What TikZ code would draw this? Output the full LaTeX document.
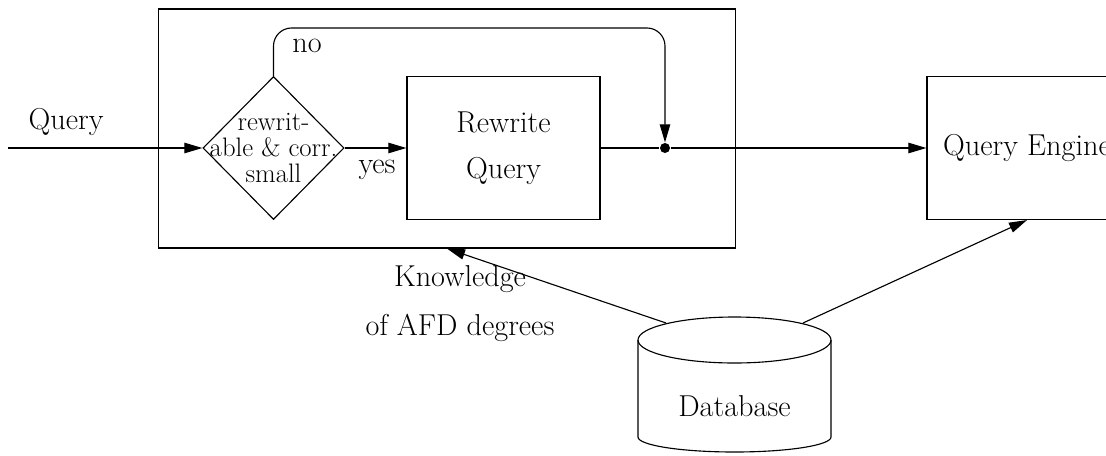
\documentclass[tikz,border=0pt]{standalone}
\usetikzlibrary{shapes.geometric,arrows.meta}
\begin{document}
\begin{tikzpicture}[x=0.025cm,y=-0.025cm, line width=0.8pt,
  box/.style={draw, rectangle, inner sep=0pt},
  arr/.style={-{Triangle[length=0.45cm,width=0.26cm]}},
  lbl/.style={font=\fontsize{21.5}{25}\selectfont, inner sep=0pt},
  small/.style={font=\fontsize{19}{18.5}\selectfont, inner sep=0pt}]
\clip (0,0) rectangle (1106,455);
% boxes
\node[box, minimum width=14.4cm, minimum height=5.975cm] (outer) at (447,128.5) {};
\node[draw, diamond, inner sep=0pt, minimum width=3.525cm, minimum height=3.575cm] (dec) at (273.5,148) {};
\node[small, align=center] (dectext) at (273.5,148) {rewrit-\\able \& corr.\\small};
\node[box, lbl, align=center, minimum width=4.825cm, minimum height=3.575cm] (rw) at (503.5,148) {Rewrite\\[8pt]Query};
\node[circle, fill, inner sep=0pt, minimum size=0.25cm] (dot) at (665,148) {};
\node[box, lbl, minimum width=5cm, minimum height=3.575cm] (qe) at (1027,148) {Query Engine};
% database
\draw (734.5,340) ellipse [x radius=96.5, y radius=23];
\draw (638,340) -- (638,437) arc[start angle=180, end angle=0, x radius=96.5, y radius=15] -- (831,340);
\node[lbl] (db) at (734.5,406) {Database};
\coordinate (dbl) at (666,323);
\coordinate (dbr) at (803,323);
% connectors
\coordinate (in) at (8,148);
\coordinate (top) at (0,28);
\draw[arr] (in) -- (dec.west);
\draw[arr] (dec.east) -- (rw.west);
\draw (rw.east) -- (dot);
\draw[arr] (dot) -- (qe.west);
\draw[arr, rounded corners=0.45cm] (dec.north) -- (dec.north |- top) -- (dot.north |- top) -- (dot.north);
\draw[arr] (dbl) -- (outer.south);
\draw[arr] (dbr) -- (qe.south);
% labels
\node[lbl] (lq) at (66,122) {Query};
\node[lbl] (lno) at (307,46) {no};
\node[lbl] (lyes) at (377,170) {yes};
\node[lbl] (lk1) at (460,279) {Knowledge};
\node[lbl] (lk2) at (460,328) {of AFD degrees};
\end{tikzpicture}
\end{document}
